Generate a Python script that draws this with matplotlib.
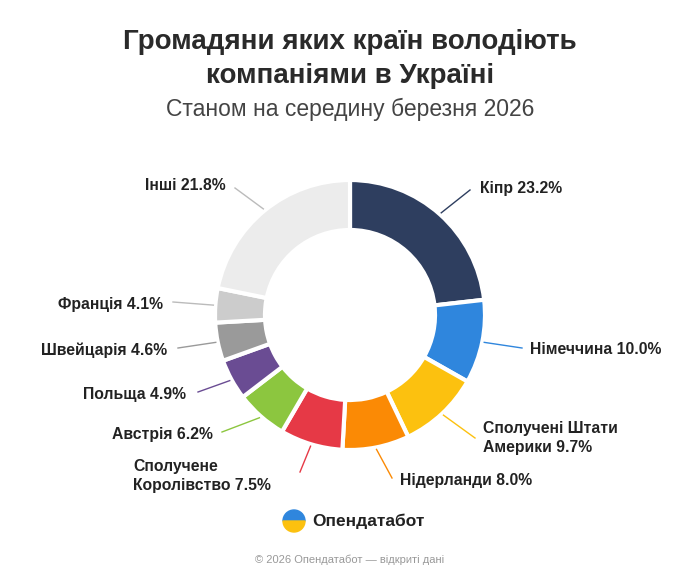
import matplotlib
matplotlib.use("Agg")
import matplotlib.pyplot as plt
import numpy as np
from matplotlib.patches import Wedge

plt.rcParams['font.family'] = ['Liberation Sans', 'DejaVu Sans']

labels = ["Кіпр", "Німеччина", "Сполучені Штати\nАмерики", "Нідерланди", "Сполучене\nКоролівство",
          "Австрія", "Польща", "Швейцарія", "Франція", "Інші"]
values = [23.2, 10.0, 9.7, 8.0, 7.5, 6.2, 4.9, 4.6, 4.1, 21.8]
colors = ["#2e3e5f", "#2f86dd", "#fcc10f", "#fb8a05", "#e63946", "#8cc63f", "#6a4c93",
          "#9a9a9a", "#cccccc", "#ececec"]

W, H = 700, 583
fig = plt.figure(figsize=(7, 5.83), dpi=100)
ax = fig.add_axes([0, 0, 1, 1])
Y = lambda y: H - y

cx, cy, R, r = 350, 315, 135, 85
ax.pie(values, colors=colors, startangle=90, counterclock=False, radius=R, center=(cx, Y(cy)),
       wedgeprops=dict(width=R - r, edgecolor='white', linewidth=3, joinstyle='round'), frame=True)
ax.set_xlim(0, W); ax.set_ylim(0, H); ax.set_aspect('equal'); ax.axis('off')

pos = [(480, 188, 'left', (470, 190)),
       (530, 350, 'left', (522, 348)),
       (483, 438, 'left', (475, 438)),
       (400, 481, 'left', (392, 478)),
       (133, 476, 'left', (300, 472)),
       (213, 435, 'right', (222, 432)),
       (186, 395, 'right', (198, 392)),
       (167, 350, 'right', (178, 348)),
       (163, 304, 'right', (173, 302)),
       (226, 185, 'right', (235, 188))]

start = 90
for lab, v, c, (tx, ty, ha, (ex, ey)) in zip(labels, values, colors, pos):
    mid = start - v / 2 * 3.6
    start -= v * 3.6
    a = np.deg2rad(mid)
    sx, sy = cx + (R + 2) * np.cos(a), cy - (R + 2) * np.sin(a)
    lc = c if c not in ("#ececec", "#cccccc") else "#bbbbbb"
    ax.plot([sx, ex], [Y(sy), Y(ey)], color=lc, lw=1)
    ax.text(tx, Y(ty), f"{lab} {v:.1f}%", ha=ha, va='center', fontsize=11.3, fontweight='bold',
            color='#222222', linespacing=1.3)

ax.text(350, Y(42), "Громадяни яких країн володіють", ha='center', va='center', fontsize=20, fontweight='bold', color='#2a2a2a')
ax.text(350, Y(76), "компаніями в Україні", ha='center', va='center', fontsize=20, fontweight='bold', color='#2a2a2a')
ax.text(350, Y(109), "Станом на середину березня 2026", ha='center', va='center', fontsize=16.5, color='#444444')

ax.add_patch(Wedge((294, Y(521)), 11, 0, 180, color='#2f86dd'))
ax.add_patch(Wedge((294, Y(521)), 11, 180, 360, color='#fcc10f'))
ax.text(312, Y(521), "Опендатабот", ha='left', va='center', fontsize=12.5, fontweight='bold', color='#222222')
ax.text(350, Y(560), "© 2026 Опендатабот — відкриті дані", ha='center', va='center', fontsize=8, color='#999999')

fig.savefig("out.png", dpi=100, facecolor='white')
